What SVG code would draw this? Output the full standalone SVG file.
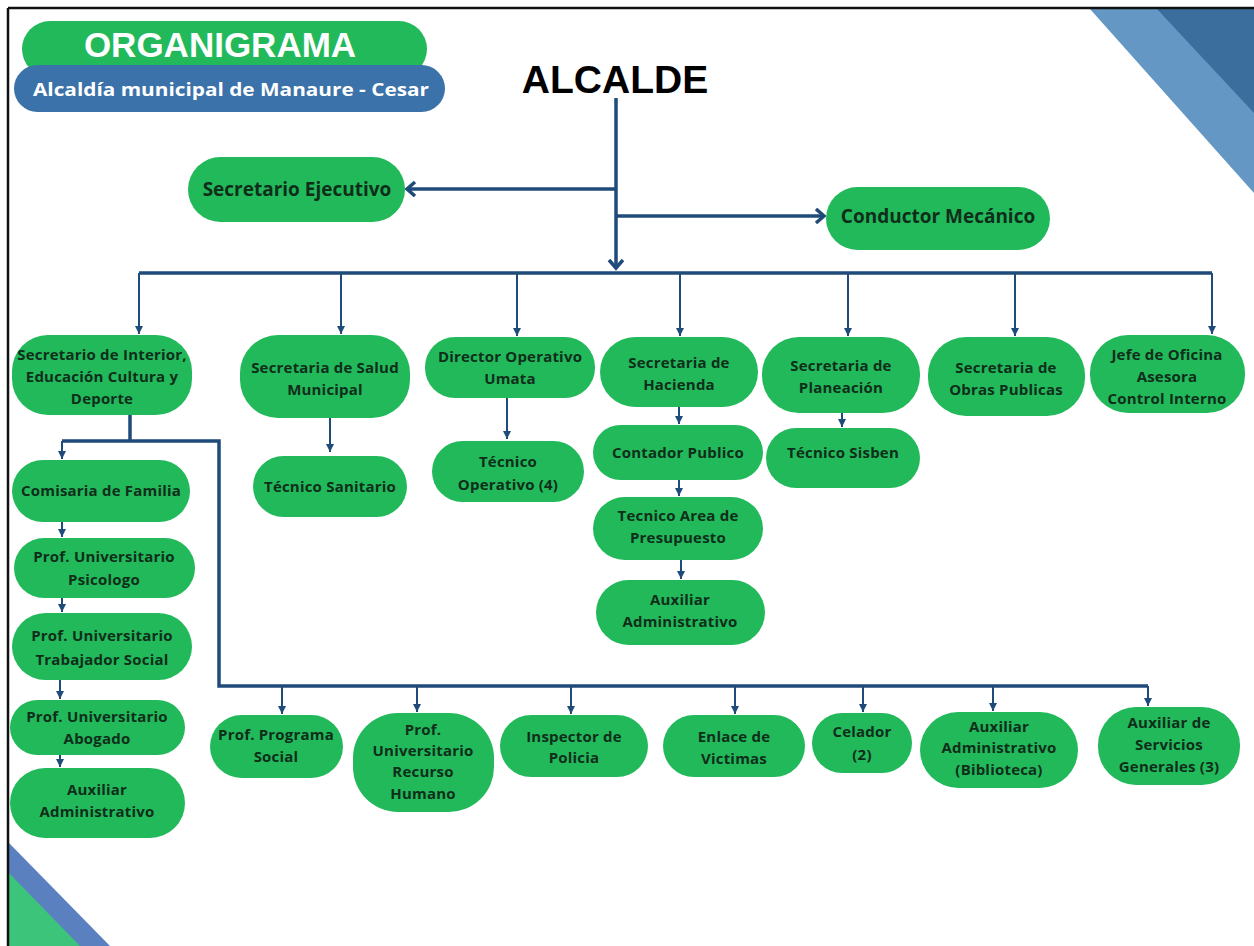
<svg xmlns="http://www.w3.org/2000/svg" width="1254" height="946" viewBox="0 0 1254 946">
<defs>
<style>
.n{fill:#22b95b}
.t{font-family:"Open Sans","DejaVu Sans",sans-serif;font-weight:bold;font-size:15px;letter-spacing:0.2px;fill:#0f2e1a;text-anchor:middle}
.tl{font-family:"Open Sans","DejaVu Sans",sans-serif;font-weight:bold;font-size:19px;fill:#0f2e1a;text-anchor:middle}
.main{stroke:#1f4b7a;stroke-width:3.5;fill:none}
.drop{stroke:#1f4b7a;stroke-width:2;fill:none}
</style>
<marker id="chev" markerUnits="userSpaceOnUse" markerWidth="20" markerHeight="20" refX="10" refY="8" orient="auto">
<path d="M2,1 L10,8 L2,15" fill="none" stroke="#1f4b7a" stroke-width="3.5"/>
</marker>
<marker id="tri" markerUnits="userSpaceOnUse" markerWidth="10" markerHeight="10" refX="8" refY="4" orient="auto">
<path d="M0,0 L8,4 L0,8 Z" fill="#1f4b7a"/>
</marker>
</defs>
<rect width="1254" height="946" fill="#ffffff"/>
<!-- corner decorations -->
<polygon points="1090,9 1254,9 1254,193" fill="#6497c3"/>
<polygon points="1157,9 1254,9 1254,113" fill="#3b6e9c"/>
<polygon points="9,843 9,946 110,946" fill="#5b80c0"/>
<polygon points="9,873 9,946 80,946" fill="#3cc47a"/>
<!-- frame -->
<line x1="8" y1="8" x2="1254" y2="8" stroke="#111" stroke-width="2.5"/>
<line x1="8" y1="8" x2="8" y2="946" stroke="#111" stroke-width="2.5"/>
<!-- title -->
<g id="title">
<rect x="22" y="21" width="405" height="56" rx="28" fill="#22b95b"/>
<text x="220" y="57" font-family="'Liberation Sans',Arial,sans-serif" font-weight="bold" font-size="35" fill="#ffffff" text-anchor="middle">ORGANIGRAMA</text>
<rect x="14" y="65" width="431" height="47" rx="23.5" fill="#3b72a9"/>
<text x="231" y="96" font-family="'Open Sans','DejaVu Sans',sans-serif" font-weight="bold" font-size="18.5" fill="#ffffff" text-anchor="middle" textLength="396" lengthAdjust="spacingAndGlyphs">Alcaldía municipal de Manaure - Cesar</text>
</g>
<g id="alcalde">
<text x="615" y="93" font-family="'Liberation Sans',Arial,sans-serif" font-weight="bold" font-size="39" fill="#000000" text-anchor="middle">ALCALDE</text>
</g>
<!-- connectors -->
<g id="connectors">
<path class="main" d="M616,98 V268" marker-end="url(#chev)"/>
<path class="main" d="M616,189 H407" marker-end="url(#chev)"/>
<path class="main" d="M616,216 H824" marker-end="url(#chev)"/>
<path class="main" d="M139,273 H1212"/>
<path class="drop" d="M139,273 V334" marker-end="url(#tri)"/>
<path class="drop" d="M341,273 V334" marker-end="url(#tri)"/>
<path class="drop" d="M517,273 V336" marker-end="url(#tri)"/>
<path class="drop" d="M680,273 V336" marker-end="url(#tri)"/>
<path class="drop" d="M848,273 V336" marker-end="url(#tri)"/>
<path class="drop" d="M1015,273 V336" marker-end="url(#tri)"/>
<path class="drop" d="M1212,273 V334" marker-end="url(#tri)"/>
<path class="drop" d="M330,418 V452" marker-end="url(#tri)"/>
<path class="drop" d="M507,398 V439" marker-end="url(#tri)"/>
<path class="drop" d="M679,407 V424" marker-end="url(#tri)"/>
<path class="drop" d="M679,480 V496" marker-end="url(#tri)"/>
<path class="drop" d="M681,560 V579" marker-end="url(#tri)"/>
<path class="drop" d="M842,413 V427" marker-end="url(#tri)"/>
<path class="main" d="M130,415 V441 M62,441 H219 V686 H1148"/>
<path class="drop" d="M62,441 V459" marker-end="url(#tri)"/>
<path class="drop" d="M62,522 V537" marker-end="url(#tri)"/>
<path class="drop" d="M62,598 V612" marker-end="url(#tri)"/>
<path class="drop" d="M60,680 V699" marker-end="url(#tri)"/>
<path class="drop" d="M60,755 V767" marker-end="url(#tri)"/>
<path class="drop" d="M282,686 V714" marker-end="url(#tri)"/>
<path class="drop" d="M417,686 V712" marker-end="url(#tri)"/>
<path class="drop" d="M571,686 V714" marker-end="url(#tri)"/>
<path class="drop" d="M735,686 V714" marker-end="url(#tri)"/>
<path class="drop" d="M863,686 V712" marker-end="url(#tri)"/>
<path class="drop" d="M993,686 V711" marker-end="url(#tri)"/>
<path class="drop" d="M1148,686 V706" marker-end="url(#tri)"/>
</g>
<!-- level 1 -->
<g id="sec-ejecutivo"><rect class="n" x="188" y="157" width="217" height="65" rx="32.5"/><text class="tl" x="297" y="196">Secretario Ejecutivo</text></g>
<g id="conductor"><rect class="n" x="826" y="187" width="224" height="63" rx="31.5"/><text class="tl" x="938" y="223">Conductor Mecánico</text></g>
<!-- level 2 -->
<g id="sec-interior"><rect class="n" x="12" y="335" width="180" height="80" rx="36"/><text class="t" x="102" y="360">Secretario de Interior,</text><text class="t" x="102" y="382">Educación Cultura y</text><text class="t" x="102" y="404">Deporte</text></g>
<g id="sec-salud"><rect class="n" x="240" y="335" width="170" height="83" rx="38"/><text class="t" x="325" y="373">Secretaria de Salud</text><text class="t" x="325" y="395">Municipal</text></g>
<g id="dir-umata"><rect class="n" x="425" y="337" width="170" height="61" rx="30"/><text class="t" x="510" y="362">Director Operativo</text><text class="t" x="510" y="384">Umata</text></g>
<g id="sec-hacienda"><rect class="n" x="600" y="337" width="158" height="70" rx="35"/><text class="t" x="679" y="368">Secretaria de</text><text class="t" x="679" y="390">Hacienda</text></g>
<g id="sec-planeacion"><rect class="n" x="762" y="337" width="158" height="76" rx="37"/><text class="t" x="841" y="371">Secretaria de</text><text class="t" x="841" y="393">Planeación</text></g>
<g id="sec-obras"><rect class="n" x="928" y="337" width="157" height="79" rx="38"/><text class="t" x="1006" y="373">Secretaria de</text><text class="t" x="1006" y="395">Obras Publicas</text></g>
<g id="jefe-control"><rect class="n" x="1090" y="335" width="155" height="78" rx="38"/><text class="t" x="1167" y="360">Jefe de Oficina</text><text class="t" x="1167" y="382">Asesora</text><text class="t" x="1167" y="404">Control Interno</text></g>
<!-- sub nodes -->
<g id="tec-sanitario"><rect class="n" x="253" y="456" width="154" height="61" rx="30.5"/><text class="t" x="330" y="492">Técnico Sanitario</text></g>
<g id="tec-operativo"><rect class="n" x="432" y="441" width="152" height="61" rx="30.5"/><text class="t" x="508" y="467">Técnico</text><text class="t" x="508" y="490">Operativo (4)</text></g>
<g id="contador"><rect class="n" x="593" y="425" width="170" height="55" rx="27.5"/><text class="t" x="678" y="458">Contador Publico</text></g>
<g id="tec-presupuesto"><rect class="n" x="593" y="497" width="170" height="63" rx="31.5"/><text class="t" x="678" y="521">Tecnico Area de</text><text class="t" x="678" y="543">Presupuesto</text></g>
<g id="aux-hacienda"><rect class="n" x="596" y="580" width="169" height="65" rx="32.5"/><text class="t" x="680" y="605">Auxiliar</text><text class="t" x="680" y="627">Administrativo</text></g>
<g id="tec-sisben"><rect class="n" x="766" y="428" width="154" height="60" rx="30"/><text class="t" x="843" y="458">Técnico Sisben</text></g>
<!-- left column -->
<g id="comisaria"><rect class="n" x="12" y="460" width="178" height="62" rx="31"/><text class="t" x="101" y="496">Comisaria de Familia</text></g>
<g id="psicologo"><rect class="n" x="14" y="538" width="181" height="60" rx="30"/><text class="t" x="104" y="562">Prof. Universitario</text><text class="t" x="104" y="585">Psicologo</text></g>
<g id="trabajador"><rect class="n" x="12" y="613" width="180" height="67" rx="33.5"/><text class="t" x="102" y="641">Prof. Universitario</text><text class="t" x="102" y="665">Trabajador Social</text></g>
<g id="abogado"><rect class="n" x="10" y="700" width="175" height="55" rx="27.5"/><text class="t" x="97" y="722">Prof. Universitario</text><text class="t" x="97" y="744">Abogado</text></g>
<g id="aux-interior"><rect class="n" x="10" y="768" width="175" height="70" rx="35"/><text class="t" x="97" y="795">Auxiliar</text><text class="t" x="97" y="817">Administrativo</text></g>
<!-- bottom row -->
<g id="prof-programa"><rect class="n" x="210" y="715" width="133" height="63" rx="31.5"/><text class="t" x="276" y="740">Prof. Programa</text><text class="t" x="276" y="762">Social</text></g>
<g id="prof-rrhh"><rect class="n" x="353" y="713" width="141" height="99" rx="45"/><text class="t" x="423" y="735">Prof.</text><text class="t" x="423" y="756">Universitario</text><text class="t" x="423" y="777">Recurso</text><text class="t" x="423" y="799">Humano</text></g>
<g id="inspector"><rect class="n" x="500" y="715" width="148" height="62" rx="31"/><text class="t" x="574" y="742">Inspector de</text><text class="t" x="574" y="763">Policia</text></g>
<g id="enlace"><rect class="n" x="663" y="715" width="142" height="62" rx="31"/><text class="t" x="734" y="742">Enlace de</text><text class="t" x="734" y="764">Victimas</text></g>
<g id="celador"><rect class="n" x="812" y="713" width="100" height="60" rx="30"/><text class="t" x="862" y="737">Celador</text><text class="t" x="862" y="760">(2)</text></g>
<g id="aux-biblioteca"><rect class="n" x="920" y="712" width="158" height="76" rx="38"/><text class="t" x="999" y="732">Auxiliar</text><text class="t" x="999" y="753">Administrativo</text><text class="t" x="999" y="775">(Biblioteca)</text></g>
<g id="aux-servicios"><rect class="n" x="1098" y="707" width="142" height="78" rx="38"/><text class="t" x="1169" y="728">Auxiliar de</text><text class="t" x="1169" y="750">Servicios</text><text class="t" x="1169" y="772">Generales (3)</text></g>
</svg>
